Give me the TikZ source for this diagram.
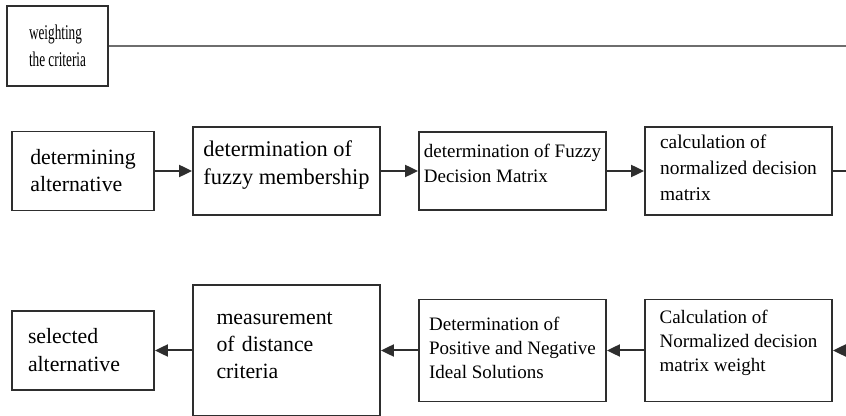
\documentclass[tikz,border=0pt]{standalone}
\usepackage{fontspec}
\setmainfont{Liberation Serif}
\newfontfamily\narrowserif[FakeStretch=0.63]{Liberation Serif}
\usetikzlibrary{arrows.meta,positioning}
\definecolor{boxLine}{HTML}{2E2E2E}
\definecolor{rimLine}{HTML}{6E6E6E}
\newcommand{\lowpad}[1]{\rule[-#1]{0pt}{#1}}

\begin{document}
\begin{tikzpicture}[
  x=0.5pt,y=-0.5pt,
  node distance=18.6pt,
  stagebox/.style={draw=boxLine,line width=0.9pt,align=left,inner sep=0pt,minimum width=93.5pt,minimum height=44pt},
  altbox/.style={stagebox,minimum width=71pt,minimum height=39.5pt},
  arrow/.style={-{Triangle[length=6.5pt,width=6pt]},line width=1pt,draw=boxLine},
  link/.style={line width=1pt,draw=boxLine}
]
\useasboundingbox (0,0) rectangle (846,416);
% top: criteria weights
\node[altbox,minimum width=50.5pt,minimum height=40pt,font=\narrowserif\fontsize{10.5}{13.5}\selectfont] (wcrit) at (57.5,46) {weighting\\the criteria};
% first row
\node[altbox,font=\fontsize{10.9}{13.5}\selectfont] (altIn) at (83,171) {determining\\alternative};
\node[stagebox,right=of altIn,font=\fontsize{11.2}{14}\selectfont] (fuzzyMem) {determination of\\fuzzy membership\lowpad{8.5pt}};
\node[stagebox,right=of fuzzyMem,minimum height=39pt,font=\fontsize{9.5}{12.5}\selectfont] (fuzzyMat) {determination of Fuzzy\\Decision Matrix\lowpad{7.5pt}};
\node[stagebox,right=of fuzzyMat,font=\fontsize{9.7}{13}\selectfont] (normMat) {calculation of\\normalized decision\\matrix\lowpad{3pt}};
% second row
\node[altbox,align=left,text width=55pt,inner xsep=8pt,font=\fontsize{10.9}{14}\selectfont] (altOut) at (83,350.5) {selected\\alternative};
\node[stagebox,right=of altOut,minimum height=65.5pt,text width=70pt,inner xsep=11.75pt,font=\fontsize{10.9}{13.5}\selectfont] (distMeas) {measurement\\of distance\\criteria\lowpad{5pt}};
\node[stagebox,right=of distMeas,minimum height=51pt,font=\fontsize{9.5}{12}\selectfont] (idealSol) {Determination of\\Positive and Negative\\Ideal Solutions\lowpad{3pt}};
\node[stagebox,right=of idealSol,minimum height=51pt,font=\fontsize{9.5}{12}\selectfont] (normWeight) {Calculation of\\Normalized decision\\matrix weight\lowpad{10pt}};
% loose ends at the right rim
\coordinate (rimTop) at (846,46);
\coordinate (rimMid) at (846,171);
\coordinate (rimLow) at (846,350.5);
\draw[link,draw=rimLine,line width=1.4pt] (wcrit) -- (rimTop);
\draw[arrow] (altIn) -- (fuzzyMem);
\draw[arrow] (fuzzyMem) -- (fuzzyMat);
\draw[arrow] (fuzzyMat) -- (normMat);
\draw[link] (normMat) -- (rimMid);
\draw[arrow] (rimLow) -- (normWeight);
\draw[arrow] (normWeight) -- (idealSol);
\draw[arrow] (idealSol) -- (distMeas);
\draw[arrow] (distMeas) -- (altOut);
\end{tikzpicture}
\end{document}
